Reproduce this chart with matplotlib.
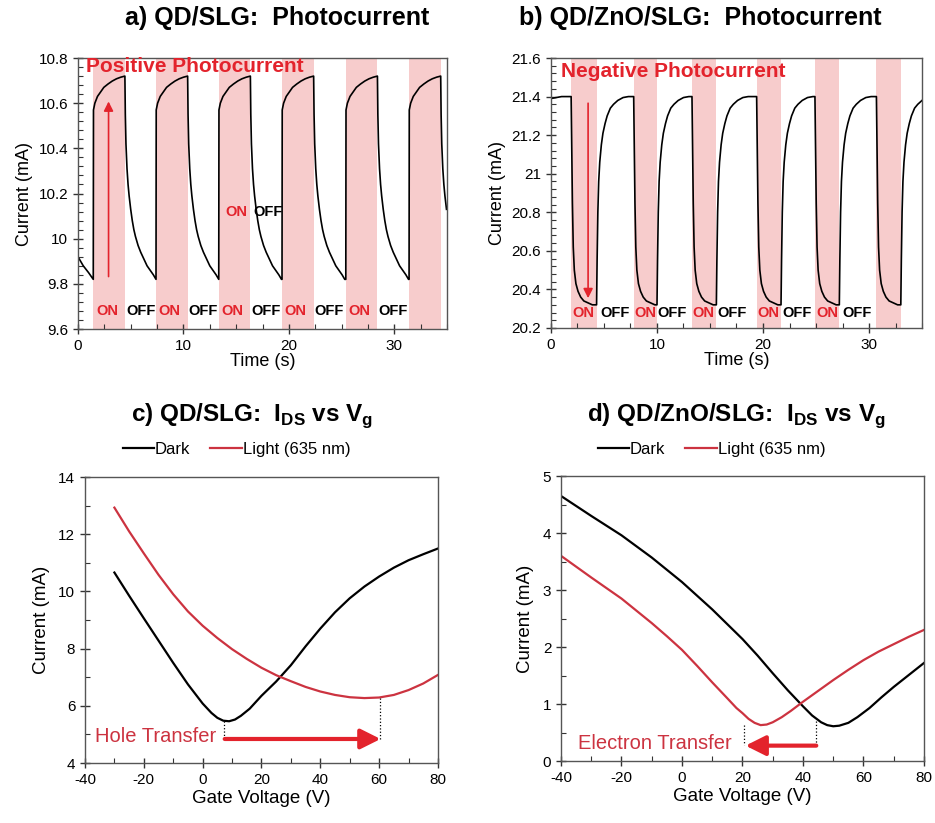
import numpy as np
import matplotlib
matplotlib.use('Agg')
import matplotlib.pyplot as plt
from matplotlib.ticker import MultipleLocator

plt.rcParams['font.family'] = ['Liberation Sans', 'DejaVu Sans']
plt.rcParams['mathtext.fontset'] = 'custom'
plt.rcParams['mathtext.rm'] = 'Liberation Sans'
plt.rcParams['mathtext.bf'] = 'Liberation Sans:bold'
plt.rcParams['axes.unicode_minus'] = False

RED_TXT = '#e3232c'
RED_LINE = '#cc3340'
PINK = '#f7cccc'
SPINE = '#555555'

# ---- panel a: QD/SLG photocurrent ----
a_on_start = [1.45, 7.4, 13.35, 19.35, 25.4, 31.4]
a_on_end = [4.45, 10.4, 16.35, 22.35, 28.4, 34.4]
a_t0 = [0.0, 0.5, 1.0, 1.45]
a_i0 = [9.92, 9.88, 9.85, 9.82]
# rise while light ON (offset from ON start)
a_rise_dt = [0.0, 0.02, 0.15, 0.4, 0.7, 1.0, 1.4, 1.8, 2.2, 2.6, 3.0]
a_rise_i = [9.82, 10.57, 10.60, 10.63, 10.65, 10.67, 10.685, 10.698, 10.708, 10.715, 10.72]
# decay while light OFF (offset from OFF start)
a_fall_dt = [0.0, 0.04, 0.1, 0.2, 0.3, 0.4, 0.55, 0.7, 0.85, 1.0, 1.25, 1.5, 1.8, 2.1, 2.4, 2.7, 2.95]
a_fall_i = [10.72, 10.55, 10.42, 10.31, 10.24, 10.19, 10.13, 10.08, 10.04, 10.01, 9.97, 9.94, 9.91, 9.88, 9.86, 9.84, 9.82]

# ---- panel b: QD/ZnO/SLG photocurrent ----
b_on_start = [1.9, 7.8, 13.3, 19.4, 24.9, 30.7]
b_on_end = [4.3, 10.0, 15.6, 21.7, 27.2, 33.0]
b_fall_dt = [0.0, 0.05, 0.12, 0.2, 0.3, 0.45, 0.65, 0.9, 1.2, 1.6, 2.0]
b_fall_i = [21.40, 21.15, 20.85, 20.62, 20.50, 20.43, 20.39, 20.36, 20.34, 20.33, 20.32]
b_rise_dt = [0.0, 0.05, 0.12, 0.2, 0.3, 0.45, 0.6, 0.8, 1.0, 1.3, 1.6, 2.0, 2.5, 3.0]
b_rise_i = [20.32, 20.55, 20.80, 20.96, 21.06, 21.15, 21.21, 21.26, 21.30, 21.34, 21.36, 21.38, 21.395, 21.40]

# ---- panel c: QD/SLG I_DS vs Vg ----
c_dark_vg = [-30, -25, -20, -15, -10, -5, 0, 3, 5, 7, 9, 11, 13, 16, 20, 25, 30, 35, 40, 45, 50, 55, 60, 65, 70, 75, 80]
c_dark = [10.66, 9.85, 9.06, 8.28, 7.50, 6.75, 6.08, 5.75, 5.58, 5.48, 5.46, 5.52, 5.65, 5.90, 6.35, 6.85, 7.42,
          8.08, 8.70, 9.27, 9.76, 10.17, 10.52, 10.83, 11.09, 11.30, 11.50]
c_light_vg = [-30, -25, -20, -15, -10, -5, 0, 5, 10, 15, 20, 25, 30, 35, 40, 45, 50, 55, 60, 65, 70, 75, 80]
c_light = [12.93, 12.10, 11.33, 10.58, 9.90, 9.30, 8.80, 8.37, 7.98, 7.64, 7.33, 7.07, 6.86, 6.66, 6.50, 6.38,
           6.30, 6.27, 6.29, 6.38, 6.55, 6.78, 7.08]

# ---- panel d: QD/ZnO/SLG I_DS vs Vg ----
d_dark_vg = [-40, -30, -20, -10, 0, 10, 20, 25, 30, 35, 40, 43, 46, 48, 50, 52, 55, 58, 62, 66, 70, 75, 80]
d_dark = [4.65, 4.30, 3.96, 3.57, 3.14, 2.66, 2.14, 1.85, 1.54, 1.24, 0.96, 0.80, 0.68, 0.63, 0.61, 0.62, 0.67,
          0.77, 0.93, 1.12, 1.30, 1.51, 1.72]
d_light_vg = [-40, -30, -20, -10, -5, 0, 5, 10, 15, 18, 20, 22, 24, 26, 28, 30, 33, 36, 40, 45, 50, 55, 60, 65,
              70, 75, 80]
d_light = [3.60, 3.22, 2.85, 2.42, 2.19, 1.95, 1.67, 1.38, 1.10, 0.93, 0.84, 0.74, 0.67, 0.63, 0.64, 0.68, 0.77,
           0.88, 1.04, 1.23, 1.42, 1.60, 1.77, 1.92, 2.05, 2.18, 2.30]


def build_trace(t0, i0, starts, ends, up_dt, up_i, down_dt, down_i, tmax):
    t = list(t0)
    cur = list(i0)
    for k in range(len(starts)):
        nxt = starts[k + 1] if k + 1 < len(starts) else tmax
        for dt, v in zip(up_dt, up_i):
            if starts[k] + dt <= ends[k]:
                t.append(starts[k] + dt)
                cur.append(v)
        for dt, v in zip(down_dt, down_i):
            if ends[k] + dt <= nxt:
                t.append(ends[k] + dt)
                cur.append(v)
    return np.array(t), np.array(cur)


def style_axes(ax):
    for s in ax.spines.values():
        s.set_color(SPINE)
        s.set_linewidth(1.0)
    ax.tick_params(which='major', direction='inout', length=7, width=1.0, color='#333333', labelsize=11)
    ax.tick_params(which='minor', direction='in', length=3.5, width=0.8, color='#333333')


fig = plt.figure(figsize=(9.35, 8.23), dpi=100)

# panel a
ax = fig.add_axes([0.0834, 0.6002, 0.3947, 0.3293])
ta, ia = build_trace(a_t0, a_i0, a_on_start, a_on_end, a_rise_dt, a_rise_i, a_fall_dt, a_fall_i, 35)
for s, e in zip(a_on_start, a_on_end):
    ax.axvspan(s, e, color=PINK, lw=0)
ax.plot(ta, ia, color='black', lw=1.2)
ax.set_xlim(0, 35)
ax.set_ylim(9.6, 10.8)
ax.xaxis.set_major_locator(MultipleLocator(10))
ax.xaxis.set_minor_locator(MultipleLocator(2.5))
ax.yaxis.set_minor_locator(MultipleLocator(0.04))
ax.set_yticks([9.6, 9.8, 10.0, 10.2, 10.4, 10.6, 10.8])
ax.set_yticklabels(['9.6', '9.8', '10', '10.2', '10.4', '10.6', '10.8'])
style_axes(ax)
ax.set_xlabel('Time (s)', fontsize=13, labelpad=0)
ax.set_ylabel('Current (mA)', fontsize=13, labelpad=4)
ax.text(0.8, 10.763, 'Positive Photocurrent', color=RED_TXT, fontsize=15, fontweight='bold', va='center')
ax.annotate('', xy=(2.9, 10.62), xytext=(2.9, 9.82),
            arrowprops=dict(arrowstyle='-|>', color=RED_TXT, lw=1.2, mutation_scale=14))
for s, e in zip(a_on_start[:5], a_on_end[:5]):
    ax.text((s + e) / 2 - 0.2, 9.68, 'ON', color=RED_TXT, fontsize=10.5, fontweight='bold', ha='center', va='center')
    ax.text(e + 1.5, 9.68, 'OFF', color='black', fontsize=10.5, fontweight='bold', ha='center', va='center')
ax.text(15.0, 10.12, 'ON', color=RED_TXT, fontsize=10.5, fontweight='bold', ha='center', va='center')
ax.text(18.0, 10.12, 'OFF', color='black', fontsize=10.5, fontweight='bold', ha='center', va='center')
fig.text(0.296, 0.978, 'a) QD/SLG:  Photocurrent', fontsize=18, fontweight='bold', ha='center', va='center')

# panel b
ax = fig.add_axes([0.5893, 0.6015, 0.3968, 0.328])
tb, ib = build_trace([0.0, 1.0, 1.9], [21.39, 21.40, 21.40], b_on_start, b_on_end,
                     b_fall_dt, b_fall_i, b_rise_dt, b_rise_i, 35)
for s, e in zip(b_on_start, b_on_end):
    ax.axvspan(s, e, color=PINK, lw=0)
ax.plot(tb, ib, color='black', lw=1.2)
ax.set_xlim(0, 35)
ax.set_ylim(20.2, 21.6)
ax.xaxis.set_major_locator(MultipleLocator(10))
ax.xaxis.set_minor_locator(MultipleLocator(2.5))
ax.set_yticks([20.2, 20.4, 20.6, 20.8, 21.0, 21.2, 21.4, 21.6])
ax.set_yticklabels(['20.2', '20.4', '20.6', '20.8', '21', '21.2', '21.4', '21.6'])
ax.yaxis.set_minor_locator(MultipleLocator(0.04))
style_axes(ax)
ax.set_xlabel('Time (s)', fontsize=13, labelpad=0)
ax.set_ylabel('Current (mA)', fontsize=13, labelpad=4)
ax.text(0.95, 21.53, 'Negative Photocurrent', color=RED_TXT, fontsize=15, fontweight='bold', va='center')
ax.annotate('', xy=(3.5, 20.34), xytext=(3.5, 21.38),
            arrowprops=dict(arrowstyle='-|>', color=RED_TXT, lw=1.2, mutation_scale=14))
b_on_x = [3.1, 8.9, 14.4, 20.5, 26.1]
b_off_x = [6.0, 11.4, 17.1, 23.2, 28.9]
for xo, xf in zip(b_on_x, b_off_x):
    ax.text(xo, 20.28, 'ON', color=RED_TXT, fontsize=10.5, fontweight='bold', ha='center', va='center')
    ax.text(xf, 20.28, 'OFF', color='black', fontsize=10.5, fontweight='bold', ha='center', va='center')
fig.text(0.749, 0.978, 'b) QD/ZnO/SLG:  Photocurrent', fontsize=18, fontweight='bold', ha='center', va='center')

# panel c
ax = fig.add_axes([0.0909, 0.0729, 0.3775, 0.3475])
ax.plot(c_dark_vg, c_dark, color='black', lw=1.6, label='Dark')
ax.plot(c_light_vg, c_light, color=RED_LINE, lw=1.6, label='Light (635 nm)')
ax.set_xlim(-40, 80)
ax.set_ylim(4, 14)
ax.xaxis.set_major_locator(MultipleLocator(20))
ax.xaxis.set_minor_locator(MultipleLocator(10))
ax.yaxis.set_major_locator(MultipleLocator(2))
ax.yaxis.set_minor_locator(MultipleLocator(1))
style_axes(ax)
ax.set_xlabel('Gate Voltage (V)', fontsize=13.5, labelpad=2)
ax.set_ylabel('Current (mA)', fontsize=13.5, labelpad=6)
ax.plot([7.3, 7.3], [5.46, 4.82], color='black', lw=0.9, ls=':')
ax.plot([60.2, 60.2], [6.29, 4.85], color='black', lw=0.9, ls=':')
ax.annotate('', xy=(60.5, 4.84), xytext=(7.5, 4.84),
            arrowprops=dict(arrowstyle='-|>', color=RED_TXT, lw=3, mutation_scale=30, shrinkA=0, shrinkB=0))
ax.text(-36.6, 4.93, 'Hole Transfer', color=RED_LINE, fontsize=14.5, va='center')
ax.legend(loc='center', bbox_to_anchor=(0.253, 0.454), bbox_transform=fig.transFigure, ncol=2,
          frameon=False, fontsize=12, handlelength=1.9, handletextpad=0.05, columnspacing=1.2)
fig.text(0.27, 0.495, r'c) QD/SLG:  I$_\mathbf{DS}$ vs V$_\mathbf{g}$', fontsize=17.5, fontweight='bold',
         ha='center', va='center')

# panel d
ax = fig.add_axes([0.6, 0.0753, 0.3882, 0.3463])
ax.plot(d_dark_vg, d_dark, color='black', lw=1.6, label='Dark')
ax.plot(d_light_vg, d_light, color=RED_LINE, lw=1.6, label='Light (635 nm)')
ax.set_xlim(-40, 80)
ax.set_ylim(0, 5)
ax.xaxis.set_major_locator(MultipleLocator(20))
ax.xaxis.set_minor_locator(MultipleLocator(10))
ax.yaxis.set_major_locator(MultipleLocator(1))
ax.yaxis.set_minor_locator(MultipleLocator(0.5))
style_axes(ax)
ax.set_xlabel('Gate Voltage (V)', fontsize=13.5, labelpad=2)
ax.set_ylabel('Current (mA)', fontsize=13.5, labelpad=6)
ax.plot([20.6, 20.6], [0.63, 0.28], color='black', lw=0.9, ls=':')
ax.plot([44.4, 44.4], [0.70, 0.28], color='black', lw=0.9, ls=':')
ax.annotate('', xy=(21.0, 0.27), xytext=(44.4, 0.27),
            arrowprops=dict(arrowstyle='-|>', color=RED_TXT, lw=3, mutation_scale=30, shrinkA=0, shrinkB=0))
ax.text(-34.5, 0.31, 'Electron Transfer', color=RED_LINE, fontsize=14.5, va='center')
ax.legend(loc='center', bbox_to_anchor=(0.761, 0.454), bbox_transform=fig.transFigure, ncol=2,
          frameon=False, fontsize=12, handlelength=1.9, handletextpad=0.05, columnspacing=1.2)
fig.text(0.788, 0.495, r'd) QD/ZnO/SLG:  I$_\mathbf{DS}$ vs V$_\mathbf{g}$', fontsize=17.5, fontweight='bold',
         ha='center', va='center')

fig.savefig('out.png', dpi=100)
